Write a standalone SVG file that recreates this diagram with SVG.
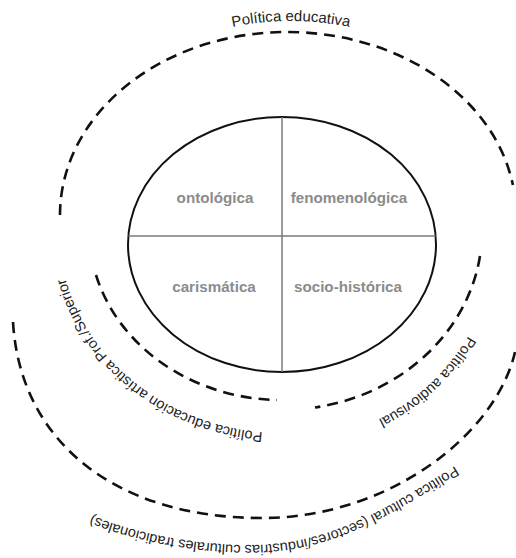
<svg xmlns="http://www.w3.org/2000/svg" xmlns:xlink="http://www.w3.org/1999/xlink" width="516" height="558" viewBox="0 0 516 558">
  <style>
    .dash { fill: none; stroke: #111; stroke-width: 2.6; stroke-dasharray: 11 7; }
    .curv { font-family: "Liberation Sans", Arial, sans-serif; font-size: 14.5px; fill: #222; }
    .quad { font-family: "Liberation Sans", Arial, sans-serif; font-size: 15.2px; font-weight: bold; fill: #8b8b8b; text-anchor: middle; }
    .grid { stroke: #7a7a7a; stroke-width: 1.5; }
  </style>
  <defs>
    <path id="tp-edu" d="M 53,215 A 238 194 0 0 1 529,215"/>
    <path id="tp-art" d="M 262.6,432.2 A 223 203 0 0 1 63.9,272.2"/>
    <path id="tp-av" d="M 468.2,336 A 215 212 0 0 1 355.5,429.2"/>
    <path id="tp-cul" d="M 455,466 C 387,508 330,545 250,545 C 190,545 124.5,531.7 75,508"/>
  </defs>
  <rect width="516" height="558" fill="#fff"/>

  <g id="politica-educativa">
    <path class="dash" d="M 60,215 A 227 183 0 0 1 287,32 A 229 183 0 0 1 512.9,185"/>
    <text class="curv" style="font-size:15px"><textPath xlink:href="#tp-edu" href="#tp-edu" startOffset="50%" text-anchor="middle">Política educativa</textPath></text>
  </g>

  <g id="politica-educacion-artistica">
    <path class="dash" d="M 96,275 A 193 170 0 0 0 277,400"/>
    <text class="curv"><textPath xlink:href="#tp-art" href="#tp-art">Política educación artística Prof./Superior</textPath></text>
  </g>

  <g id="politica-audiovisual">
    <path class="dash" d="M 480,256 A 200 180 0 0 1 315,407.5"/>
    <text class="curv"><textPath xlink:href="#tp-av" href="#tp-av">Política audiovisual</textPath></text>
  </g>

  <g id="politica-cultural">
    <path class="dash" d="M 13,322 C 20,440 113,518 262,518 C 388,518 496,435 515,352"/>
    <text class="curv"><textPath xlink:href="#tp-cul" href="#tp-cul">Política cultural (sectores/industrias culturales tradicionales)</textPath></text>
  </g>

  <g id="nucleo">
    <ellipse cx="282" cy="244.5" rx="154" ry="127.5" fill="#fff" stroke="#111" stroke-width="2"/>
  </g>

  <g id="connectors">
    <line class="grid" x1="282" y1="117" x2="282" y2="372"/>
    <line class="grid" x1="128.5" y1="236" x2="435.5" y2="236"/>
  </g>

  <g id="ontologica"><text class="quad" x="215" y="203">ontológica</text></g>
  <g id="fenomenologica"><text class="quad" x="349" y="203">fenomenológica</text></g>
  <g id="carismatica"><text class="quad" x="214" y="292">carismática</text></g>
  <g id="socio-historica"><text class="quad" x="348" y="292">socio-histórica</text></g>
</svg>
